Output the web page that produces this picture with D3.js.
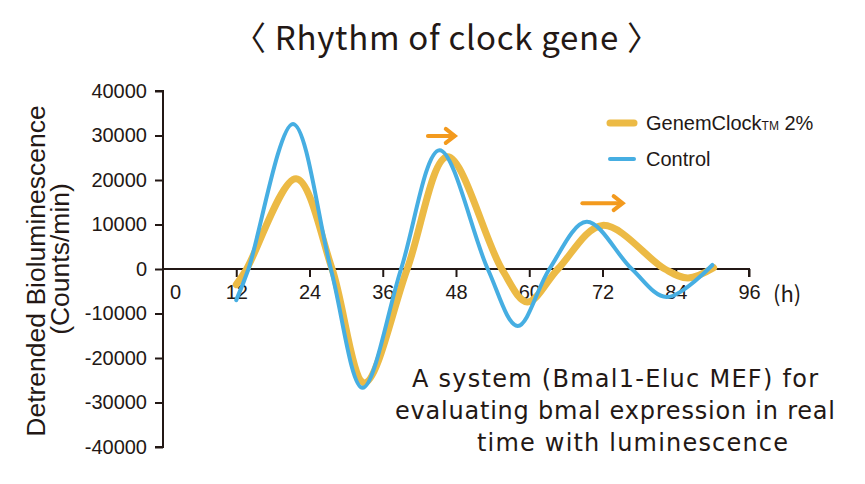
<!DOCTYPE html>
<html>
<head>
<meta charset="utf-8">
<title>Rhythm of clock gene</title>
<script src="https://d3js.org/d3.v7.min.js"></script>
<style>
  body { margin: 0; background: #fff; }
</style>
</head>
<body>
<svg id="mainsvg" width="865" height="484"></svg>
<script>
// ---------- data ----------
const hours   = [12, 13.7, 21.8, 27.7, 33, 40, 46.6, 55.5, 59.7, 64.7, 72, 82.2, 86, 90.2];
const genem   = [-3500, 0, 20300, 0, -25600, 0, 25200, 0, -7400, 0, 9800, 0, -2000, 300];
const ctrlHours = [12, 14, 21.3, 27.5, 32.7, 39, 45.3, 53.2, 58.1, 63.3, 69.4, 76.8, 82.5, 90];
const control   = [-7000, 0, 32600, 0, -26700, 0, 26700, 0, -12800, 0, 10600, 0, -6300, 900];
const xTicks = [0, 12, 24, 36, 48, 60, 72, 84, 96];
const yTicks = [-40000, -30000, -20000, -10000, 0, 10000, 20000, 30000, 40000];
// phase-delay arrows: [from h, to h, level]
const arrows = [[43.4, 47.8, 29900], [68.7, 75.3, 14800]];

const ink = "#231815";
const yellow = "#ECBA45";
const blue = "#46AEE2";
const orange = "#F39A1E";
const sans = "'Liberation Sans', Arial, sans-serif";
const jp = "'Noto Sans CJK JP', sans-serif";

const svg = d3.select("#mainsvg");
const x = d3.scaleLinear().domain([0, 96]).range([163, 749]);
const y = d3.scaleLinear().domain([-40000, 40000]).range([447, 91]);

// title
svg.append("text")
   .attr("x", 233).attr("y", 50)
   .attr("textLength", 427).attr("lengthAdjust", "spacing")
   .attr("font-family", jp)
   .attr("font-size", 33)
   .attr("fill", ink)
   .text("〈 Rhythm of clock gene 〉");

// y axis
const yAxis = svg.append("g")
   .attr("transform", `translate(${x(0)},0)`)
   .call(d3.axisLeft(y).tickValues(yTicks).tickSize(8).tickPadding(8).tickFormat(d => String(d)));
yAxis.select(".domain").attr("stroke", ink).attr("stroke-width", 2).attr("d", `M-8,${y(40000)}H0V${y(-40000)}H-8`);
yAxis.selectAll(".tick line").attr("stroke", ink).attr("stroke-width", 2);
yAxis.selectAll(".tick text")
   .attr("font-family", sans)
   .attr("font-size", 20).attr("fill", ink);

// x axis at zero
const xAxis = svg.append("g")
   .attr("transform", `translate(0,${y(0)})`)
   .call(d3.axisBottom(x).tickValues(xTicks).tickSize(8).tickPadding(8));
xAxis.select(".domain").attr("stroke", ink).attr("stroke-width", 2).attr("d", `M${x(0)},0H${x(96)}V8`);
xAxis.selectAll(".tick line").attr("stroke", ink).attr("stroke-width", 2)
   .filter(d => d === 0).remove();
xAxis.selectAll(".tick text")
   .attr("font-family", sans)
   .attr("font-size", 20).attr("fill", ink)
   .attr("dx", d => d === 0 ? 12 : 0);
svg.append("text")
   .attr("x", x(96) + 24).attr("y", 302)
   .attr("font-family", jp)
   .attr("font-size", 22).attr("fill", ink)
   .text("(h)");

// y axis title
const yTitle = svg.append("text")
   .attr("transform", "rotate(-90)")
   .attr("text-anchor", "middle")
   .attr("font-family", sans)
   .attr("font-size", 26.5).attr("fill", ink);
yTitle.append("tspan").attr("x", -271).attr("y", 45).text("Detrended Bioluminescence");
yTitle.append("tspan").attr("x", -259).attr("y", 69).text("(Counts/min)");

// curves
const line = d3.line().curve(d3.curveCatmullRom.alpha(0.5));
svg.append("path")
   .attr("d", line(hours.map((h, i) => [x(h), y(genem[i])])))
   .attr("fill", "none").attr("stroke", yellow).attr("stroke-width", 7)
   .attr("stroke-linecap", "round");
svg.append("path")
   .attr("d", line(ctrlHours.map((h, i) => [x(h), y(control[i])])))
   .attr("fill", "none").attr("stroke", blue).attr("stroke-width", 4)
   .attr("stroke-linecap", "round");

// arrows
arrows.forEach(a => {
  const x0 = x(a[0]), x1 = x(a[1]), yy = y(a[2]);
  svg.append("line")
     .attr("x1", x0).attr("x2", x1 - 3).attr("y1", yy).attr("y2", yy)
     .attr("stroke", orange).attr("stroke-width", 4).attr("stroke-linecap", "round");
  svg.append("path")
     .attr("d", `M${x1 - 9},${yy - 7}L${x1},${yy}L${x1 - 9},${yy + 7}`)
     .attr("fill", "none").attr("stroke", orange).attr("stroke-width", 4)
     .attr("stroke-linecap", "round").attr("stroke-linejoin", "miter");
});

// legend
const legend = [[yellow, 7, 123], [blue, 4, 159]];
legend.forEach(l => {
  svg.append("line")
     .attr("x1", 610).attr("x2", 634).attr("y1", l[2]).attr("y2", l[2])
     .attr("stroke", l[0]).attr("stroke-width", l[1]).attr("stroke-linecap", "round");
});
const lg1 = svg.append("text")
   .attr("x", 646).attr("y", 130)
   .attr("font-family", sans)
   .attr("font-size", 20).attr("fill", ink);
lg1.append("tspan").text("GenemClock");
lg1.append("tspan").attr("font-size", 12).text("TM");
lg1.append("tspan").text(" 2%");
svg.append("text")
   .attr("x", 646).attr("y", 166)
   .attr("font-family", sans)
   .attr("font-size", 20).attr("fill", ink)
   .text("Control");

// note: [text, left, baseline, width]
const note = [["A system (Bmal1-Eluc MEF) for", 412, 387, 406],
              ["evaluating bmal expression in real", 395, 419, 440],
              ["time with luminescence", 477, 451, 311]];
note.forEach(n => {
  svg.append("text")
     .attr("x", n[1]).attr("y", n[2])
     .attr("textLength", n[3]).attr("lengthAdjust", "spacing")
     .attr("font-family", "'DejaVu Sans', sans-serif")
     .attr("font-size", 24).attr("fill", ink)
     .text(n[0]);
});
</script>
</body>
</html>
